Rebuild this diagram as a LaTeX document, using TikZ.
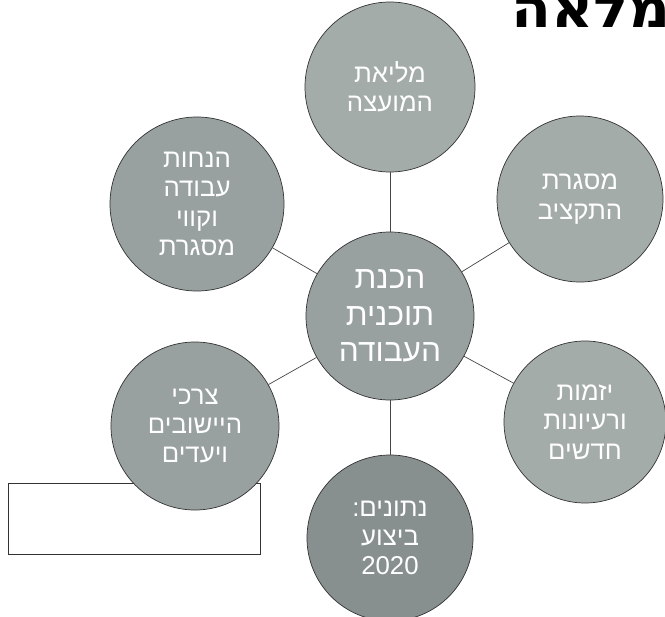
\documentclass[tikz,border=0pt]{standalone}
\usepackage{fontspec}
\setmainfont{Liberation Sans}
\newfontfamily\hebfont[Script=Hebrew]{Liberation Sans}
\newfontfamily\titlefont[Script=Hebrew]{DejaVu Sans Bold}
\TeXXeTstate=1
\definecolor{bubblegray}{RGB}{152,160,160}
\definecolor{bubblelight}{RGB}{164,172,170}
\definecolor{bubbledark}{RGB}{136,143,143}
\definecolor{linkgray}{RGB}{70,70,70}
\tikzset{
  bubble/.style={circle, draw=black!80, line width=0.6pt, fill=bubblegray,
    text=white, align=center, inner sep=0pt,
    font=\hebfont\fontsize{22}{25}\selectfont},
  link/.style={draw=linkgray, line width=0.6pt}
}
\begin{document}
\begin{tikzpicture}[x=0.03cm, y=-0.03cm]
    % page frame
    \useasboundingbox (0,0) rectangle (665,617);

    % title at the top edge
    \node[anchor=base west, inner sep=0pt, xscale=1.08,
        font=\titlefont\fontsize{46}{48}\selectfont]
        (title) at (511,28) {\beginR מלאה\endR};

    % empty box under the left circle
    \node[draw=black!80, line width=0.6pt, fill=white, minimum width=7.56cm,
        minimum height=2.13cm, inner sep=0pt] (blank) at (134,518.5) {};

    % centre circle
    \node[bubble, minimum size=5.04cm, fill=bubblegray,
        font=\hebfont\fontsize{27}{31}\selectfont] (core) at (390,316)
        {\beginR הכנת\endR\\ \beginR תוכנית\endR\\ \beginR העבודה\endR};

    % outer circles
    \node[bubble, minimum size=5.1cm, fill=bubblelight] (council) at (390,87)
        {\beginR מליאת\endR\\ \beginR המועצה\endR};
    \node[bubble, minimum size=4.98cm, fill=bubblelight] (budget) at (580,199)
        {\beginR מסגרת\endR\\ \beginR התקציב\endR};
    \node[bubble, minimum size=4.86cm, fill=bubblelight] (ideas) at (585,422)
        {\beginR יזמות\endR\\ \beginR ורעיונות\endR\\ \beginR חדשים\endR};
    \node[bubble, minimum size=4.98cm, fill=bubbledark] (data) at (390,538)
        {\beginR נתונים:\endR\\ \beginR ביצוע\endR\\ 2020};
    \node[bubble, minimum size=5.04cm] (needs) at (195,426)
        {\beginR צרכי\endR\\ \beginR היישובים\endR\\ \beginR ויעדים\endR};
    \node[bubble, minimum size=5.22cm] (rules) at (197,204)
        {\beginR הנחות\endR\\ \beginR עבודה\endR\\ \beginR וקווי\endR\\ \beginR מסגרת\endR};

    % spokes
    \foreach \n in {council,budget,ideas,data,needs,rules}
        \draw[link] (core) -- (\n);

\end{tikzpicture}
\end{document}
